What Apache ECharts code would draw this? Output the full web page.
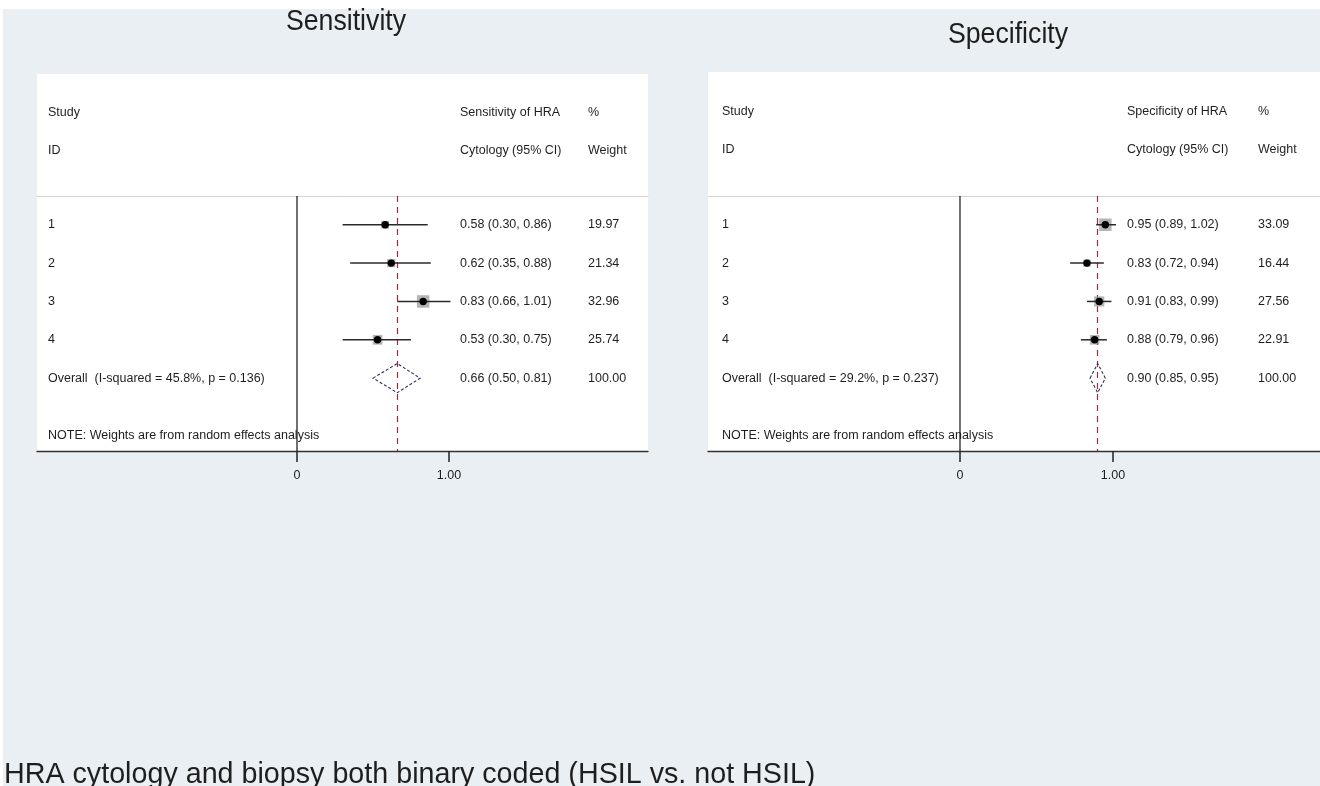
<!DOCTYPE html>
<html>
<head>
<meta charset="utf-8">
<script src="https://cdn.jsdelivr.net/npm/echarts@6/dist/echarts.min.js"></script>
<style>
  html, body { margin: 0; padding: 0; background: #ffffff; }
  #main { width: 1320px; height: 786px; }
</style>
</head>
<body>
<div id="main"></div>
<script>
// forest plot data
var studies = ["1", "2", "3", "4"];

var sensEst = [0.58, 0.62, 0.83, 0.53];
var sensLo = [0.30, 0.35, 0.66, 0.30];
var sensHi = [0.86, 0.88, 1.01, 0.75];
var sensWeight = [19.97, 21.34, 32.96, 25.74];
var sensOverall = [0.66, 0.50, 0.81]; // est, lo, hi
var sensHet = "Overall  (I-squared = 45.8%, p = 0.136)";

var specEst = [0.95, 0.83, 0.91, 0.88];
var specLo = [0.89, 0.72, 0.83, 0.79];
var specHi = [1.02, 0.94, 0.99, 0.96];
var specWeight = [33.09, 16.44, 27.56, 22.91];
var specOverall = [0.90, 0.85, 0.95];
var specHet = "Overall  (I-squared = 29.2%, p = 0.237)";

var xTicks = [0, 1];
var note = "NOTE: Weights are from random effects analysis";

var FONT = '"Liberation Sans", Arial, sans-serif';
var TXT = "#1e1e1e";
var FS = 12.5;

// row positions: studies 1..4, overall 5, note 6.5
var Y_MIN = 0.25, Y_MAX = 6.9;

function fmt(v) { return v.toFixed(2); }

function ciText(e, l, h) { return fmt(e) + " (" + fmt(l) + ", " + fmt(h) + ")"; }

// one panel = a set of series on grid g
function panelSeries(g, est, lo, hi, weight, overall, het, cols) {
  var minW = Infinity;
  for (var i = 0; i < est.length; i++) minW = Math.min(minW, hi[i] - lo[i]);

  var forest = {
    type: "custom",
    xAxisIndex: g * 2, yAxisIndex: g,
    silent: true, clip: false, z: 5,
    data: est.map(function (e, i) { return [e, lo[i], hi[i], i + 1]; }),
    renderItem: function (params, api) {
      var p = api.coord([api.value(0), api.value(3)]);
      var a = api.coord([api.value(1), api.value(3)]);
      var b = api.coord([api.value(2), api.value(3)]);
      // box size by inverse variance (narrower CI -> bigger box)
      var side = 12.5 * minW / (api.value(2) - api.value(1));
      return {
        type: "group",
        children: [
          { type: "rect", shape: { x: p[0] - side / 2, y: p[1] - side / 2, width: side, height: side },
            style: { fill: "rgba(150,150,150,0.7)" } },
          { type: "line", shape: { x1: a[0], y1: a[1], x2: b[0], y2: b[1] },
            style: { stroke: "#2a2a2a", lineWidth: 1.5 } },
          { type: "circle", shape: { cx: p[0], cy: p[1], r: 3.7 }, style: { fill: "#000000" } }
        ]
      };
    }
  };

  var diamond = {
    type: "custom",
    xAxisIndex: g * 2, yAxisIndex: g,
    silent: true, clip: false, z: 6,
    data: [[overall[0], overall[1], overall[2], 5]],
    renderItem: function (params, api) {
      var row = api.value(3);
      var c = api.coord([api.value(0), row]);
      var l = api.coord([api.value(1), row]);
      var r = api.coord([api.value(2), row]);
      var top = api.coord([api.value(0), row - 0.38]);
      var bot = api.coord([api.value(0), row + 0.38]);
      return {
        type: "polygon",
        shape: { points: [[l[0], c[1]], [c[0], top[1]], [r[0], c[1]], [c[0], bot[1]]] },
        style: { fill: "none", stroke: "#2c2c60", lineWidth: 1.1, lineDash: [3, 2] }
      };
    },
    markLine: {
      silent: true, symbol: "none", label: { show: false },
      lineStyle: { color: "#9b2d3d", type: [6, 5], width: 1.2 },
      data: [{ xAxis: overall[0] }]
    }
  };

  var zero = {
    type: "line",
    xAxisIndex: g * 2, yAxisIndex: g,
    silent: true, symbol: "none", z: 3,
    lineStyle: { color: "#111111", width: 1.2 },
    data: [[xTicks[0], Y_MIN], [xTicks[0], Y_MAX]]
  };

  var rows = est.map(function (e, i) {
    return { row: i + 1, cells: [studies[i], ciText(e, lo[i], hi[i]), fmt(weight[i])] };
  });
  rows.push({ row: 5, cells: [het, ciText(overall[0], overall[1], overall[2]), "100.00"] });
  rows.push({ row: 6.5, cells: [note, null, null] });

  var text = {
    type: "custom",
    xAxisIndex: g * 2, yAxisIndex: g,
    silent: true, clip: false, z: 10,
    data: rows.map(function (r) { return [0, r.row]; }),
    renderItem: function (params, api) {
      var r = rows[params.dataIndex];
      var y = api.coord([0, api.value(1)])[1];
      var x0 = params.coordSys.x;
      var kids = [];
      for (var k = 0; k < cols.length; k++) {
        if (r.cells[k] == null) continue;
        kids.push({
          type: "text", x: x0 + cols[k], y: y,
          style: { text: r.cells[k], fill: TXT, fontSize: FS, fontFamily: FONT,
                   textAlign: "left", textVerticalAlign: "middle" }
        });
      }
      return { type: "group", children: kids };
    }
  };

  return [forest, diamond, zero, text];
}

function bottomAxis(g, min, max) {
  return {
    type: "value", gridIndex: g, position: "bottom", min: min, max: max,
    splitLine: { show: false },
    axisLine: { show: true, onZero: false, lineStyle: { color: "#333333", width: 1.3 } },
    axisTick: { show: true, inside: false, length: 11, customValues: xTicks,
                lineStyle: { color: "#222222", width: 1.5 } },
    axisLabel: { show: true, customValues: xTicks, margin: 18, fontSize: FS, fontFamily: FONT, color: TXT,
                 formatter: function (v) { return v === 0 ? "0" : fmt(v); } }
  };
}

function topAxis(g, min, max) {
  return {
    type: "value", gridIndex: g, position: "top", min: min, max: max,
    splitLine: { show: false },
    axisLine: { show: true, onZero: false, lineStyle: { color: "#d2d4d6", width: 1 } },
    axisTick: { show: false }, axisLabel: { show: false }
  };
}

function headText(x, y, s, size, align, sx) {
  return {
    type: "text", x: x, y: y, z: 10, silent: true, scaleX: sx || 1,
    style: { text: s, fill: TXT, fontSize: size, fontFamily: FONT,
             textAlign: align || "left", textVerticalAlign: "middle" }
  };
}

var myChart = echarts.init(document.getElementById("main"));
myChart.setOption({
  animation: false,
  backgroundColor: "#ffffff",
  graphic: [
    { type: "rect", z: -10, silent: true, shape: { x: 3, y: 9, width: 1317, height: 777 }, style: { fill: "#e9eff2" } },
    { type: "rect", z: -9, silent: true, shape: { x: 37, y: 74, width: 611, height: 377 }, style: { fill: "#ffffff" } },
    { type: "rect", z: -9, silent: true, shape: { x: 708, y: 72, width: 612, height: 379 }, style: { fill: "#ffffff" } },
    headText(346, 22, "Sensitivity", 30, "center", 0.89),
    headText(1008, 35, "Specificity", 30, "center", 0.89),
    headText(4, 775, "HRA cytology and biopsy both binary coded (HSIL vs. not HSIL)", 30, "left", 0.956),
    headText(48, 113, "Study", FS),
    headText(48, 151, "ID", FS),
    headText(460, 113, "Sensitivity of HRA", FS),
    headText(460, 151, "Cytology (95% CI)", FS),
    headText(588, 113, "%", FS),
    headText(588, 151, "Weight", FS),
    headText(722, 112, "Study", FS),
    headText(722, 150, "ID", FS),
    headText(1127, 112, "Specificity of HRA", FS),
    headText(1127, 150, "Cytology (95% CI)", FS),
    headText(1258, 112, "%", FS),
    headText(1258, 150, "Weight", FS)
  ],
  grid: [
    { left: 37, top: 196, width: 611, height: 255 },
    { left: 708, top: 196, width: 612, height: 255 }
  ],
  xAxis: [
    bottomAxis(0, -1.7105, 2.3092),
    topAxis(0, -1.7105, 2.3092),
    bottomAxis(1, -1.647, 2.353),
    topAxis(1, -1.647, 2.353)
  ],
  yAxis: [
    { type: "value", gridIndex: 0, inverse: true, min: Y_MIN, max: Y_MAX, show: false },
    { type: "value", gridIndex: 1, inverse: true, min: Y_MIN, max: Y_MAX, show: false }
  ],
  series: [].concat(
    panelSeries(0, sensEst, sensLo, sensHi, sensWeight, sensOverall, sensHet, [11, 423, 551]),
    panelSeries(1, specEst, specLo, specHi, specWeight, specOverall, specHet, [14, 419, 550])
  )
});
</script>
</body>
</html>
